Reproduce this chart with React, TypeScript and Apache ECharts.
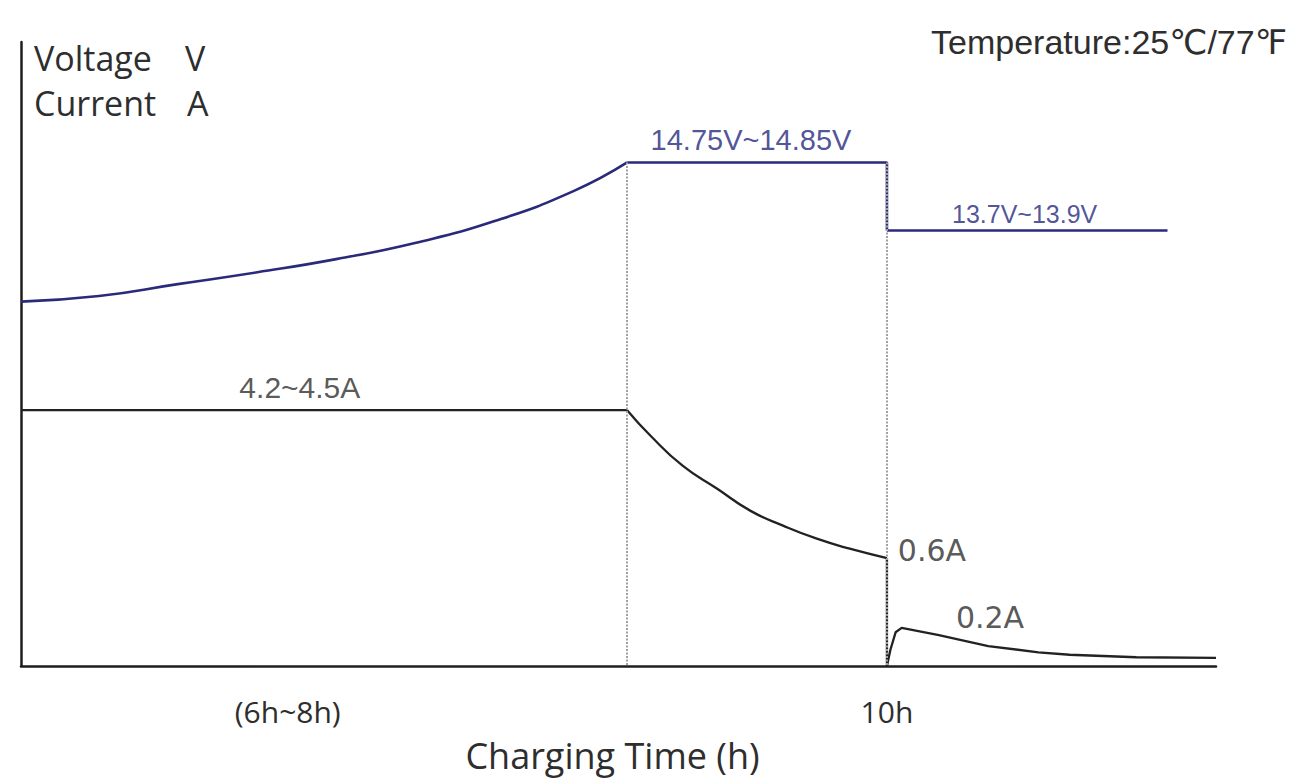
import { useEffect, useRef } from "react";
import * as echarts from "echarts";

// x: charging time in hours, y: relative level on the schematic (0 = axis, 100 = top of axis)
const voltageBulk: number[][] = [
  [0, 58.4], [0.9, 59.3], [1.81, 61.2], [2.73, 63.1], [3.64, 65.2],
  [4.55, 67.8], [5.47, 71.3], [6.38, 76.1], [7, 80.7],
];
const voltageAbsorb: number[][] = [[7, 80.7], [10, 80.7], [10, 69.8]];
const voltageFloat: number[][] = [[10, 69.8], [13.24, 69.8]];

const currentBulk: number[][] = [[0, 41.0], [7, 41.0]];
const currentAbsorb: number[][] = [
  [7, 41.0], [7.27, 36.9], [7.64, 32.1], [8.04, 28.4], [8.42, 24.9],
  [8.8, 22.5], [9.19, 20.4], [9.57, 18.8], [10, 17.3],
];
const currentDrop: number[][] = [[10, 17.3], [10, 0]];
const currentFloat: number[][] = [
  [10, 0], [10.04, 2.6], [10.1, 5.4], [10.17, 6.1], [10.6, 4.95],
  [11.17, 3.2], [11.75, 2.2], [12.11, 1.8], [12.88, 1.4], [13.8, 1.3],
];

const phaseBoundaries = [7, 10];
const boundaryTop = 80.7;

const xTickValues = [3.08, 10];
const xTickLabels = ["(6h~8h)", "10h"];

const voltageNoteTexts = ["14.75V~14.85V", "13.7V~13.9V"];
const voltageNoteCoords: number[][] = [[8.43, 84.3], [11.59, 72.5]];
const currentNoteTexts = ["4.2~4.5A", "0.6A", "0.2A"];
const currentNoteCoords: number[][] = [[3.22, 44.7], [10.52, 18.5], [11.19, 7.7]];

const xMax = 13.8;

const VOLT = "#2a2a7a";
const VOLT_TEXT = "#23287e";
const CURR = "#222222";
const TEXT = "#2e2e2e";

export default function App() {
  const ref = useRef<HTMLDivElement>(null);

  useEffect(() => {
    if (!ref.current) return;
    const chart = echarts.init(ref.current, undefined, { renderer: "svg" });

    const vLine = { color: VOLT, width: 2.6 };
    const cLine = { color: CURR, width: 2.3 };

    chart.setOption({
      animation: false,
      backgroundColor: "#ffffff",
      grid: { left: 21, right: 76, top: 42, bottom: 110 },
      xAxis: {
        type: "value",
        min: 0,
        max: xMax,
        axisLine: { show: true, lineStyle: { color: "#1e1e1e", width: 2.5 } },
        axisTick: { show: false },
        splitLine: { show: false },
        axisLabel: {
          customValues: xTickValues,
          formatter: (v: number) => {
            const i = xTickValues.findIndex((t) => Math.abs(t - v) < 1e-6);
            return i >= 0 ? xTickLabels[i] : "";
          },
          margin: 30,
          color: TEXT,
          fontSize: 30,
          fontFamily: "Open Sans",
        },
        name: "Charging Time (h)",
        nameLocation: "middle",
        nameGap: 71,
        nameTextStyle: {
          color: TEXT,
          fontSize: 36,
          fontFamily: "Open Sans",
          padding: [0, 12, 0, 0],
        },
      },
      yAxis: {
        type: "value",
        min: 0,
        max: 100,
        axisLine: { show: true, lineStyle: { color: "#1e1e1e", width: 2.5 } },
        axisTick: { show: false },
        axisLabel: { show: false },
        splitLine: { show: false },
      },
      series: [
        {
          name: "boundaries",
          type: "line",
          data: [],
          z: 1,
          markLine: {
            silent: true,
            symbol: ["none", "none"],
            label: { show: false },
            lineStyle: { color: "#a0a0a0", width: 2, type: [2, 1.5] },
            data: phaseBoundaries.map((b) => [
              { coord: [b, boundaryTop] },
              { coord: [b, 0] },
            ]),
          },
        },
        {
          name: "Voltage bulk",
          type: "line",
          data: voltageBulk,
          smooth: 0.5,
          showSymbol: false,
          lineStyle: vLine,
          z: 3,
        },
        {
          name: "Voltage absorb",
          type: "line",
          data: voltageAbsorb,
          showSymbol: false,
          lineStyle: vLine,
          z: 3,
        },
        {
          name: "Voltage float",
          type: "line",
          data: voltageFloat,
          showSymbol: false,
          lineStyle: vLine,
          z: 3,
        },
        {
          name: "Current bulk",
          type: "line",
          data: currentBulk,
          showSymbol: false,
          lineStyle: cLine,
          z: 3,
        },
        {
          name: "Current absorb",
          type: "line",
          data: currentAbsorb,
          smooth: 0.5,
          showSymbol: false,
          lineStyle: cLine,
          z: 3,
        },
        {
          name: "Current drop",
          type: "line",
          data: currentDrop,
          showSymbol: false,
          lineStyle: cLine,
          z: 3,
        },
        {
          name: "Current float",
          type: "line",
          data: currentFloat,
          showSymbol: false,
          clip: false,
          lineStyle: cLine,
          z: 3,
        },
        {
          name: "Voltage notes",
          type: "scatter",
          symbolSize: 0,
          z: 4,
          data: voltageNoteCoords.map((c, i) => ({
            value: c,
            label: {
              show: true,
              position: "inside",
              formatter: voltageNoteTexts[i],
              color: VOLT_TEXT,
              fontSize: i === 0 ? 29 : 25,
              fontFamily: "Liberation Sans",
            },
          })),
        },
        {
          name: "Current notes",
          type: "scatter",
          symbolSize: 0,
          z: 4,
          data: currentNoteCoords.map((c, i) => ({
            value: c,
            label: {
              show: true,
              position: "inside",
              formatter: currentNoteTexts[i],
              color: TEXT,
              fontSize: i === 0 ? 30 : 30,
              fontFamily: i === 0 ? "Liberation Sans" : "DejaVu Sans",
            },
          })),
        },
      ],
      graphic: [
        {
          type: "text",
          left: 34,
          top: 41,
          style: { text: "Voltage", fill: TEXT, fontSize: 34, fontFamily: "Open Sans" },
        },
        {
          type: "text",
          left: 185,
          top: 41,
          style: { text: "V", fill: TEXT, fontSize: 34, fontFamily: "Open Sans" },
        },
        {
          type: "text",
          left: 34,
          top: 86,
          style: { text: "Current", fill: TEXT, fontSize: 34, fontFamily: "Open Sans" },
        },
        {
          type: "text",
          left: 187,
          top: 86,
          style: { text: "A", fill: TEXT, fontSize: 34, fontFamily: "Open Sans" },
        },
        {
          type: "text",
          right: 5,
          top: 25,
          style: {
            text: "Temperature:25℃/77℉",
            fill: TEXT,
            fontSize: 34,
            fontFamily: "Liberation Sans, DejaVu Sans, Noto Sans CJK SC",
          },
        },
      ],
    });

    return () => chart.dispose();
  }, []);

  return (
    <div
      ref={ref}
      style={{ position: "fixed", left: 0, top: 0, width: 1292, height: 778, background: "#fff" }}
    />
  );
}
